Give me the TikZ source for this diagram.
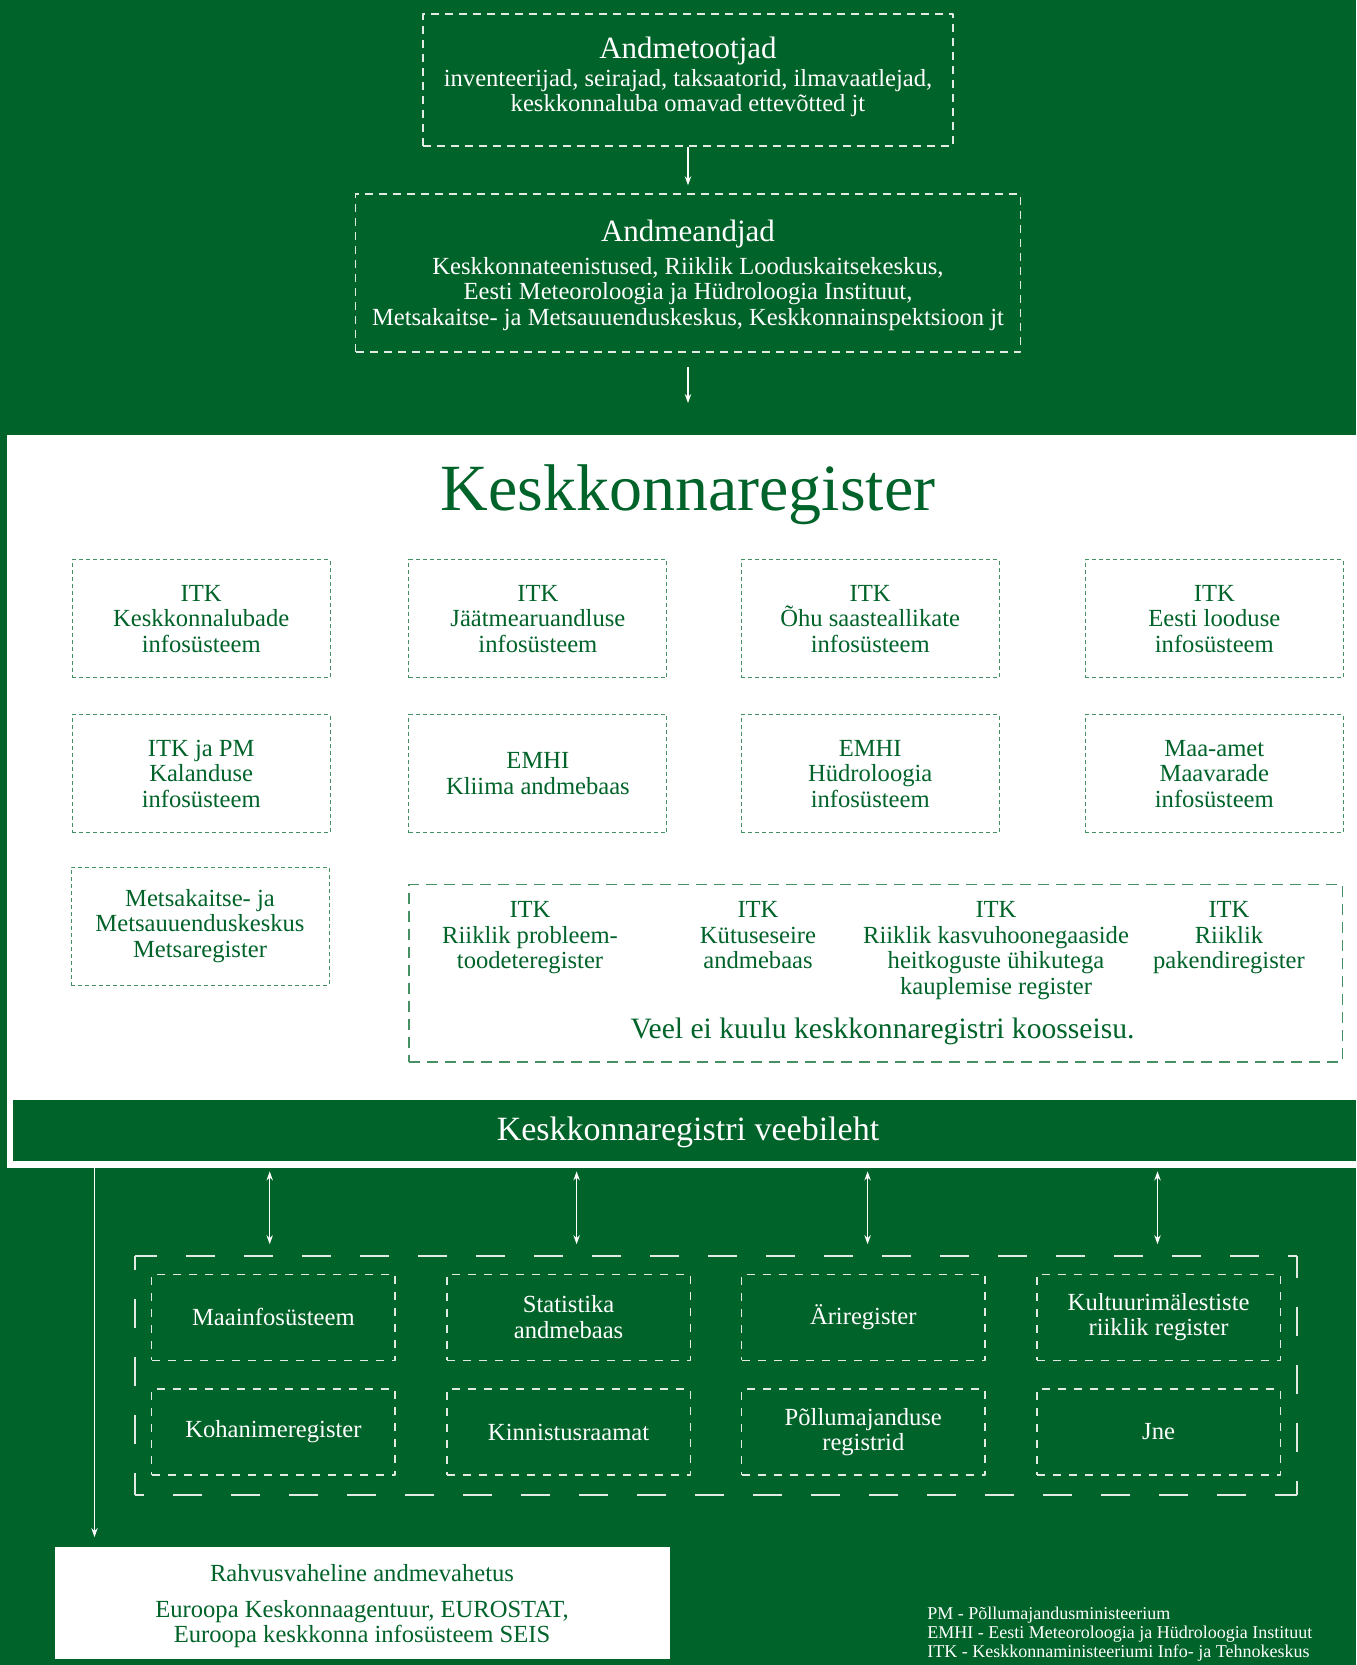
\documentclass[tikz,border=0pt]{standalone}
\usepackage{fontspec}
\setmainfont{Liberation Serif}
\usetikzlibrary{arrows.meta}
\definecolor{kkgreen}{RGB}{0,99,41}
\definecolor{kkline}{RGB}{70,145,100}
\definecolor{kkpale}{RGB}{225,235,228}
\newcommand{\kkfont}[2]{\fontsize{#1}{#2}\selectfont}

\begin{document}
\begin{tikzpicture}[x=0.5pt, y=-0.5pt, >={Stealth[length=4.5pt,width=3.2pt]}, line join=round, font=\kkfont{12.3}{12.75},
	topbox/.style={draw=kkpale, dash pattern=on 4pt off 3pt, line width=0.7pt, inner sep=0pt},
	regbox/.style={draw=kkline, dash pattern=on 2pt off 1.5pt, line width=0.5pt, text=kkgreen, align=center, minimum width=129pt, minimum height=59pt, inner sep=0pt},
	webbox/.style={draw=kkpale, dash pattern=on 4pt off 4pt, line width=0.7pt, text=white, align=center, minimum width=121.75pt, minimum height=43pt, inner sep=0pt},
	wtext/.style={text=white, align=center, inner sep=0pt},
	gtext/.style={text=kkgreen, align=center, inner sep=0pt},
	arr/.style={->, white, line width=0.6pt},
	dblarr/.style={<->, white, line width=0.6pt},
	extline/.style={kkpale, line width=1pt, dash pattern=on 14.5pt off 14.5pt, dash phase=3.5pt}]
	\fill[kkgreen] (0,0) rectangle (1356,1665);
	\useasboundingbox (0,0) rectangle (1356,1665);
	% andmetootjad ja andmeandjad
	\node[topbox, minimum width=265pt, minimum height=66pt] (prod) at (688,80) {};
	\node[wtext, font=\kkfont{15.5}{16}] (prodtitle) at (688,51) {Andmetootjad};
	\node[wtext] (prodtext) at (688,93) {inventeerijad, seirajad, taksaatorid, ilmavaatlejad,\\keskkonnaluba omavad ettevõtted jt};
	\node[topbox, minimum width=332.4pt, minimum height=79pt] (prov) at (688,273) {};
	\node[wtext, font=\kkfont{15.5}{16}] (provtitle) at (688,234) {Andmeandjad};
	\node[wtext] (provtext) at (688,294) {Keskkonnateenistused, Riiklik Looduskaitsekeskus,\\Eesti Meteoroloogia ja Hüdroloogia Instituut,\\Metsakaitse- ja Metsauuenduskeskus, Keskkonnainspektsioon jt};
	\node[fill=white, minimum width=674.3pt, minimum height=366.5pt, inner sep=0pt] (panel) at (681.7,801.5) {};
	\draw[arr, shorten >=4pt] (prod.south) -- (prov.north);
	\draw[arr, shorten <=7pt, shorten >=15.75pt] (prov.south) -- (prov.south |- panel.north);
	% keskkonnaregister
	\node[gtext, font=\kkfont{33}{36}] (title) at (688,495) {Keskkonnaregister};
	\foreach \n/\x/\y/\t in {r1/201.2/618.6/{ITK\\Keskkonnalubade\\infosüsteem}, r2/537.9/618.6/{ITK\\Jäätmearuandluse\\infosüsteem},
		r3/870.2/618.6/{ITK\\Õhu saasteallikate\\infosüsteem}, r4/1214.3/618.6/{ITK\\Eesti looduse\\infosüsteem},
		r5/201.2/773.6/{ITK ja PM\\Kalanduse\\infosüsteem}, r6/537.9/773.6/{EMHI\\Kliima andmebaas},
		r7/870.2/773.6/{EMHI\\Hüdroloogia\\infosüsteem}, r8/1214.3/773.6/{Maa-amet\\Maavarade\\infosüsteem},
		r9/200/926/{Metsakaitse- ja\\Metsauuenduskeskus\\Metsaregister}}
		\node[regbox] (\n) at (\x,\y) {\t};
	\node[draw=kkline, dash pattern=on 5.5pt off 3.5pt, line width=0.7pt, minimum width=466.7pt, minimum height=88.65pt, inner sep=0pt] (pend) at (875.5,973.25) {};
	\foreach \n/\x/\t in {p1/530/{ITK\\Riiklik probleem-\\toodeteregister}, p2/758/{ITK\\Kütuseseire\\andmebaas},
		p3/996/{ITK\\Riiklik kasvuhoonegaaside\\heitkoguste ühikutega\\kauplemise register}, p4/1229/{ITK\\Riiklik\\pakendiregister}}
		\node[gtext, anchor=north] (\n) at (\x,901) {\t};
	\node[gtext, font=\kkfont{14.8}{16}] (pendnote) at (882.5,1031) {Veel ei kuulu keskkonnaregistri koosseisu.};
	\node[fill=kkgreen, text=white, font=\kkfont{17}{18}, minimum width=671.65pt, minimum height=30.5pt, inner sep=0pt] (web) at (684.35,1130.5) {};
	\node[wtext, font=\kkfont{17}{18}] (webtext) at (688,1132) {Keskkonnaregistri veebileht};
	% teised registrid
	\node[minimum width=580.85pt, minimum height=118.95pt, inner sep=0pt] (ext) at (715.75,1375.15) {};
	\foreach \a/\b in {north west/north east, north east/south east, south east/south west, south west/north west}
		\draw[extline] (ext.\a) -- (ext.\b);
	\foreach \n/\x/\y/\t in {w1/273.4/1317.3/Maainfosüsteem, w2/568.6/1317.3/{Statistika\\andmebaas}, w3/863.3/1317.3/Äriregister,
		w4/1158.6/1317.3/{Kultuurimälestiste\\riiklik register}, w5/273.4/1432/Kohanimeregister, w6/568.6/1432/Kinnistusraamat,
		w7/863.3/1432/{Põllumajanduse\\registrid}, w8/1158.6/1432/Jne}
		\node[webbox] (\n) at (\x,\y) {\t};
	\foreach \x in {269.7,576.6,867.6,1157.5}
		\draw[dblarr, shorten <=1.5pt, shorten >=5.8pt] (\x,0 |- panel.south) -- (\x,0 |- ext.north);
	% rahvusvaheline
	\node[fill=white, minimum width=307.4pt, minimum height=55.85pt, inner sep=0pt] (intl) at (362.6,1602.85) {};
	\node[gtext] (intltitle) at (362,1572.7) {Rahvusvaheline andmevahetus};
	\node[gtext] (intltext) at (362,1624) {Euroopa Keskonnaagentuur, EUROSTAT,\\Euroopa keskkonna infosüsteem SEIS};
	\coordinate (out) at (94.5,1168);
	\draw[arr, shorten >=4.75pt] (out) -- (out |- intl.north);
	\node[text=white, align=left, anchor=north west, font=\kkfont{9}{9.4}, inner sep=0pt] (abbr) at (927,1607) {PM - Põllumajandusministeerium\\EMHI - Eesti Meteoroloogia ja Hüdroloogia Instituut\\ITK - Keskkonnaministeeriumi Info- ja Tehnokeskus};
\end{tikzpicture}
\end{document}
